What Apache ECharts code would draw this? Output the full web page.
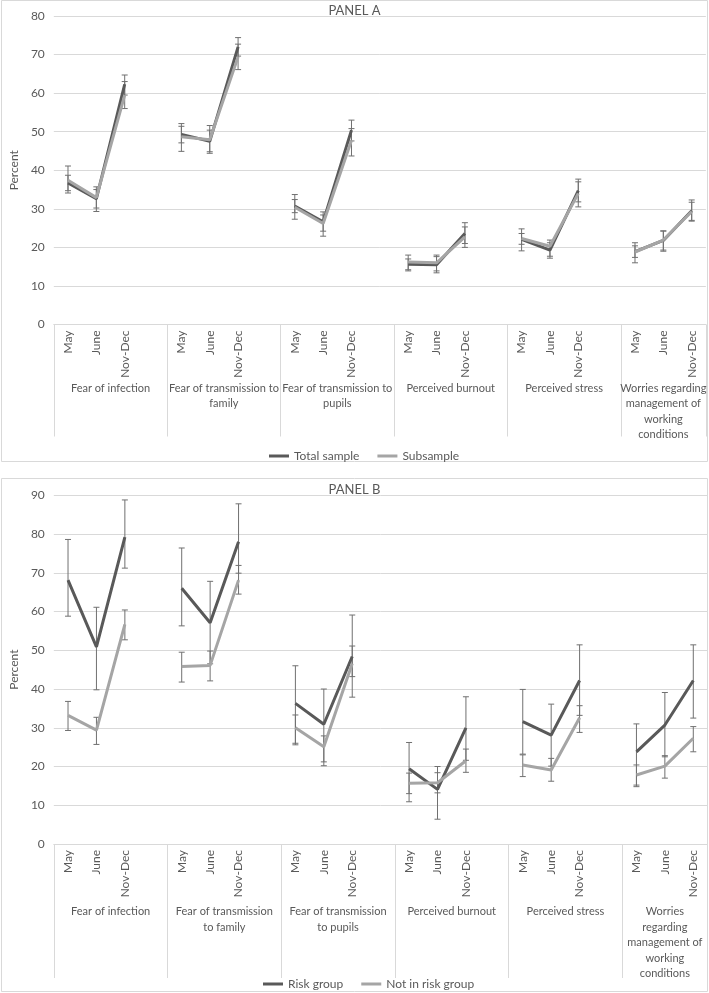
<!DOCTYPE html>
<html><head><meta charset="utf-8">
<script src="https://cdn.jsdelivr.net/npm/echarts@6/dist/echarts.min.js"></script>
<style>html,body{margin:0;padding:0;background:#fff;} #c{width:709px;height:993px;}</style>
</head><body><div id="c"></div>
<script>
// ---- data ----
const timepoints = ['May', 'June', 'Nov-Dec'];
const groupLabelsA = ['Fear of infection', 'Fear of transmission to\nfamily', 'Fear of transmission to\npupils', 'Perceived burnout', 'Perceived stress', 'Worries regarding\nmanagement of\nworking\nconditions'];
const groupLabelsB = ['Fear of infection', 'Fear of transmission\nto family', 'Fear of transmission\nto pupils', 'Perceived burnout', 'Perceived stress', 'Worries\nregarding\nmanagement of\nworking\nconditions'];
const yTicksA = [0, 10, 20, 30, 40, 50, 60, 70, 80];
const yTicksB = [0, 10, 20, 30, 40, 50, 60, 70, 80, 90];

// Panel A
const totalA     = [36.7, 32.6, 62.3, 49.3, 47.5, 72.0, 30.7, 26.6, 50.4, 15.6, 15.5, 23.6, 22.1, 19.3, 34.7, 18.9, 21.8, 29.5];
const totalALow  = [34.7, 30.2, 59.5, 47.1, 44.8, 69.6, 29.0, 24.2, 47.6, 14.2, 13.4, 21.0, 20.8, 17.2, 31.8, 17.4, 19.3, 27.0];
const totalAHigh = [38.7, 35.0, 64.7, 51.4, 50.4, 74.4, 32.4, 28.4, 53.0, 17.0, 17.6, 26.4, 23.6, 21.2, 37.7, 20.4, 24.2, 31.7];
const subA       = [37.4, 32.9, 59.5, 48.7, 47.9, 69.4, 30.4, 26.2, 47.8, 16.2, 16.0, 22.7, 22.3, 20.3, 34.0, 18.8, 21.9, 29.3];
const subALow    = [34.1, 29.3, 56.0, 44.9, 44.4, 66.1, 27.3, 22.9, 43.7, 13.9, 13.9, 20.0, 19.1, 17.7, 30.5, 16.0, 19.0, 26.8];
const subAHigh   = [41.1, 35.7, 63.0, 52.1, 51.6, 72.7, 33.7, 29.2, 50.8, 18.0, 18.0, 25.3, 24.8, 21.9, 37.0, 21.2, 24.3, 32.3];

// Panel B
const riskB      = [68.1, 50.9, 79.2, 66.0, 57.1, 78.0, 36.3, 30.9, 48.4, 19.4, 14.1, 30.0, 31.6, 28.1, 42.2, 23.8, 30.7, 42.2];
const riskBLow   = [58.8, 39.8, 71.2, 56.3, 46.5, 69.9, 25.6, 20.2, 37.9, 10.9, 6.4, 21.6, 23.2, 20.1, 33.2, 14.8, 22.5, 32.5];
const riskBHigh  = [78.6, 61.1, 88.8, 76.4, 67.8, 87.8, 46.0, 40.0, 59.1, 26.2, 20.0, 38.0, 39.9, 36.1, 51.4, 31.0, 39.1, 51.4];
const notRiskB     = [33.2, 29.4, 56.7, 45.8, 46.1, 68.1, 30.0, 25.1, 46.6, 15.7, 15.8, 21.5, 20.4, 19.1, 32.6, 17.8, 20.1, 27.3];
const notRiskBLow  = [29.3, 25.7, 52.7, 41.8, 42.1, 64.5, 26.0, 21.2, 43.2, 13.0, 13.2, 18.5, 17.4, 16.2, 28.8, 15.2, 17.0, 23.8];
const notRiskBHigh = [36.8, 32.7, 60.4, 49.5, 49.8, 71.9, 33.3, 27.9, 51.1, 18.3, 18.4, 24.5, 23.0, 22.1, 35.7, 20.4, 22.8, 30.3];

// ---- helpers ----
const nGroups = 6;
const cats = [];
for (let g = 0; g < nGroups; g++) { timepoints.forEach(t => cats.push(t)); if (g < nGroups - 1) cats.push(''); }
const groupCenters = [];
const groupEdges = [-0.5];
for (let g = 0; g < nGroups; g++) {
  const last = g === nGroups - 1;
  groupCenters.push(last ? g * 4 + 1 : g * 4 + 1.5);
  groupEdges.push(last ? g * 4 + 2.5 : g * 4 + 3.5);
}
function slots(vals) {
  const out = [];
  for (let g = 0; g < nGroups; g++) {
    for (let t = 0; t < 3; t++) out.push(vals[g * 3 + t]);
    if (g < nGroups - 1) out.push(null);
  }
  return out;
}
function errData(lo, hi) {
  const out = [];
  for (let g = 0; g < nGroups; g++) for (let t = 0; t < 3; t++) out.push([g * 4 + t, lo[g * 3 + t], hi[g * 3 + t]]);
  return out;
}
function renderErr(params, api) {
  const x = api.value(0), lo = api.value(1), hi = api.value(2);
  const p1 = api.coord([x, hi]), p2 = api.coord([x, lo]);
  const c = 3;
  const st = { stroke: '#707070', lineWidth: 1 };
  return { type: 'group', children: [
    { type: 'line', shape: { x1: p1[0], y1: p1[1], x2: p2[0], y2: p2[1] }, style: st },
    { type: 'line', shape: { x1: p1[0] - c, y1: p1[1], x2: p1[0] + c, y2: p1[1] }, style: st },
    { type: 'line', shape: { x1: p2[0] - c, y1: p2[1], x2: p2[0] + c, y2: p2[1] }, style: st }
  ]};
}

const FONT = 'Lato, "Open Sans", sans-serif';
const TXT = '#595959';
const GRIDC = '#d9d9d9';
const DARK = '#595959';
const LIGHT = '#a5a5a5';

function catAxis(gi) {
  return {
    gridIndex: gi, type: 'category', data: cats, boundaryGap: true,
    axisLine: { lineStyle: { color: GRIDC, width: 1 } },
    axisTick: { show: false },
    axisLabel: { rotate: 90, interval: 0, margin: 6, fontSize: 12, color: TXT, fontFamily: FONT }
  };
}
function groupAxis(gi, labels, tickLen, margin) {
  return {
    gridIndex: gi, type: 'value', min: -0.5, max: 22.5, position: 'bottom',
    axisLine: { show: false }, splitLine: { show: false },
    axisTick: { show: true, customValues: groupEdges, length: tickLen, lineStyle: { color: GRIDC, width: 1 } },
    axisLabel: {
      customValues: groupCenters, margin: margin, fontSize: 11, lineHeight: 15.5, color: TXT, fontFamily: FONT, align: 'center',
      formatter: v => { const i = groupCenters.indexOf(v); return i >= 0 ? labels[i] : ''; }
    }
  };
}
function yAxis(gi, ticks) {
  return {
    gridIndex: gi, type: 'value', min: ticks[0], max: ticks[ticks.length - 1], interval: ticks[1] - ticks[0],
    axisLine: { show: false }, axisTick: { show: false },
    axisLabel: { margin: 9, fontSize: 12, color: TXT, fontFamily: FONT },
    splitLine: { lineStyle: { color: GRIDC, width: 1 } },
    name: 'Percent', nameLocation: 'middle', nameRotate: 90, nameGap: 25,
    nameTextStyle: { fontSize: 12, color: TXT, fontFamily: FONT }
  };
}
function lineSeries(name, gi, vals, color) {
  return { name, type: 'line', xAxisIndex: gi * 2, yAxisIndex: gi, data: slots(vals), connectNulls: false,
    symbol: 'none', z: 3, lineStyle: { color, width: 3 }, itemStyle: { color } };
}
function errSeries(gi, lo, hi) {
  return { type: 'custom', xAxisIndex: gi * 2, yAxisIndex: gi, data: errData(lo, hi), renderItem: renderErr,
    encode: { x: 0, y: [1, 2] }, z: 2, silent: true };
}

const chart = echarts.init(document.getElementById('c'), null, { renderer: 'canvas' });
chart.setOption({
  animation: false,
  backgroundColor: '#fff',
  graphic: [
    { type: 'rect', shape: { x: 1.5, y: 0.5, width: 706, height: 461 }, style: { fill: 'none', stroke: GRIDC, lineWidth: 1 }, z: 0 },
    { type: 'rect', shape: { x: 1.5, y: 478.5, width: 706, height: 513 }, style: { fill: 'none', stroke: GRIDC, lineWidth: 1 }, z: 0 }
  ],
  title: [
    { text: 'PANEL A', left: 'center', top: -1, textStyle: { fontSize: 13, fontWeight: 'normal', color: TXT, fontFamily: FONT } },
    { text: 'PANEL B', left: 'center', top: 478, textStyle: { fontSize: 13, fontWeight: 'normal', color: TXT, fontFamily: FONT } }
  ],
  legend: [
    { data: ['Total sample', 'Subsample'], left: 264, top: 445, icon: 'rect', itemWidth: 20, itemHeight: 3, itemGap: 18, itemTextGap: 3,
      textStyle: { fontSize: 12, color: TXT, fontFamily: FONT } },
    { data: ['Risk group', 'Not in risk group'], left: 258, top: 973, icon: 'rect', itemWidth: 20, itemHeight: 3, itemGap: 18, itemTextGap: 3,
      textStyle: { fontSize: 12, color: TXT, fontFamily: FONT } }
  ],
  grid: [
    { left: 46.6, right: 1.5, top: 16, height: 308.5 },
    { left: 46.6, right: 1.5, top: 495.3, height: 348.7 }
  ],
  xAxis: [catAxis(0), groupAxis(0, groupLabelsA, 112, 56), catAxis(1), groupAxis(1, groupLabelsB, 134, 60)],
  yAxis: [yAxis(0, yTicksA), yAxis(1, yTicksB)],
  series: [
    errSeries(0, totalALow, totalAHigh),
    errSeries(0, subALow, subAHigh),
    lineSeries('Total sample', 0, totalA, DARK),
    lineSeries('Subsample', 0, subA, LIGHT),
    errSeries(1, riskBLow, riskBHigh),
    errSeries(1, notRiskBLow, notRiskBHigh),
    lineSeries('Risk group', 1, riskB, DARK),
    lineSeries('Not in risk group', 1, notRiskB, LIGHT)
  ]
});
</script>
</body></html>
